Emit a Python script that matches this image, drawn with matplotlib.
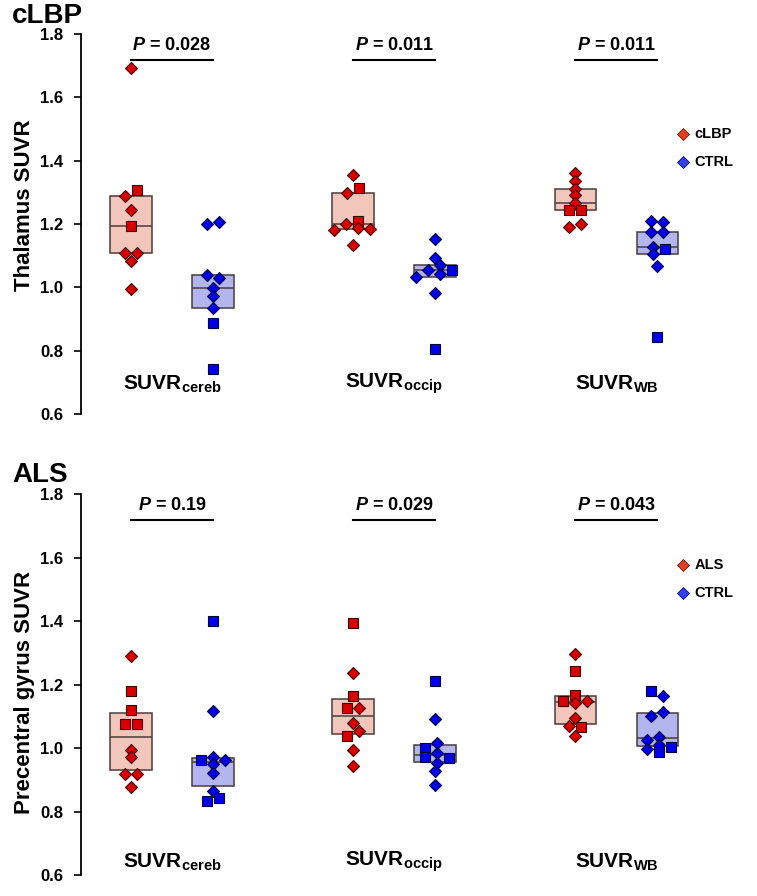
import numpy as np
import matplotlib
matplotlib.use('Agg')
import matplotlib.pyplot as plt

plt.rcParams['font.family'] = ['Liberation Sans', 'DejaVu Sans']
plt.rcParams['font.weight'] = 'bold'
plt.rcParams['mathtext.fontset'] = 'custom'
plt.rcParams['mathtext.rm'] = 'Liberation Sans:bold'
plt.rcParams['mathtext.bf'] = 'Liberation Sans:bold'
plt.rcParams['mathtext.it'] = 'Liberation Sans:italic:bold'

#data, D = diamond, s = square
measures = ['cereb', 'occip', 'WB']

clbp_pat = [
    [1.692, 1.307, 1.288, 1.244, 1.195, 1.107, 1.107, 1.083, 0.996],
    [1.354, 1.315, 1.299, 1.209, 1.201, 1.186, 1.184, 1.181, 1.133],
    [1.360, 1.335, 1.312, 1.290, 1.267, 1.245, 1.245, 1.199, 1.192],
]
clbp_pat_shape = [
    'DsDDsDDDD',
    'DsDsDDDDD',
    'DDDDDssDD',
]
clbp_ctrl = [
    [1.207, 1.199, 1.030, 1.038, 0.999, 0.974, 0.936, 0.888, 0.742],
    [1.153, 1.093, 1.071, 1.055, 1.055, 1.042, 1.034, 0.983, 0.804],
    [1.207, 1.210, 1.174, 1.176, 1.121, 1.126, 1.104, 1.067, 0.844],
]
clbp_ctrl_shape = [
    'DDDDDDDss',
    'DDDDsDDDs',
    'DDDDsDDDs',
]
clbp_p = ['0.028', '0.011', '0.011']

als_pat = [
    [1.290, 1.179, 1.120, 1.075, 1.075, 0.994, 0.971, 0.918, 0.918, 0.877],
    [1.395, 1.237, 1.164, 1.127, 1.125, 1.078, 1.055, 1.039, 0.994, 0.943],
    [1.296, 1.243, 1.167, 1.149, 1.149, 1.141, 1.094, 1.067, 1.069, 1.038],
]
als_pat_shape = [
    'DssssDDDDD',
    'sDsDsDDsDD',
    'DsssDDDsDD',
]
als_ctrl = [
    [1.400, 1.117, 0.971, 0.962, 0.962, 0.949, 0.920, 0.865, 0.841, 0.833],
    [1.210, 1.090, 1.015, 0.999, 0.983, 0.973, 0.968, 0.952, 0.929, 0.883],
    [1.165, 1.180, 1.114, 1.101, 1.036, 1.025, 1.009, 1.004, 0.996, 0.986],
]
als_ctrl_shape = [
    'sDDsDDDDss',
    'sDDsDssDDD',
    'DsDDDDDsDs',
]
als_p = ['0.19', '0.029', '0.043']

RED = '#d80000'
BLUE = '#0000e8'
RED_BOX = '#f2c6ba'
BLUE_BOX = '#b3b5ee'

STEP = 0.146      # horizontal swarm step (x units)
DMIN = 6.8        # px, vertical overlap threshold
PPU = 317.0       # px per y unit


def swarm(vals):
    vals = np.asarray(vals)
    cols = []
    for i, v in enumerate(vals):
        for k in [0, -1, 1, -2, 2, -3, 3]:
            hit = any(abs(v - vals[j]) * PPU < DMIN and cols[j] == k for j in range(i))
            if not hit:
                break
        cols.append(k)
    cols = np.array(cols, float)
    order = np.argsort(vals)
    comps, cur = [], [order[0]]
    for a, b in zip(order[:-1], order[1:]):
        if (vals[b] - vals[a]) * PPU < DMIN:
            cur.append(b)
        else:
            comps.append(cur)
            cur = [b]
    comps.append(cur)
    for c in comps:
        cols[c] -= cols[c].mean()
    return cols * STEP


def draw_group(ax, xc, vals, shapes, face, boxcol, edge):
    q1, med, q3 = np.percentile(vals, [25, 50, 75])
    ax.bar(xc, q3 - q1, bottom=q1, width=0.51, color=boxcol, edgecolor='#4a3c3c',
           linewidth=1.1, zorder=1)
    ax.hlines(med, xc - 0.255, xc + 0.255, color='#4a3c3c', linewidth=1.1, zorder=2)
    offs = swarm(vals)
    for v, o, m in zip(vals, offs, shapes):
        ms = 6.4 if m == 'D' else 7.6
        ax.plot(xc + o, v, ls='none', marker=m, ms=ms, mfc=face, mec=edge,
                mew=0.8, zorder=3)


def panel(ax, pat, pat_shape, ctrl, ctrl_shape, pvals, ylab, ylab_y, legend_lab,
          leg_y, lab_y):
    ax.set_xlim(0, 8.244)
    ax.set_ylim(0.6, 1.8)
    ax.set_yticks([0.6, 0.8, 1.0, 1.2, 1.4, 1.6, 1.8])
    ax.set_yticklabels(['0.6', '0.8', '1.0', '1.2', '1.4', '1.6', '1.8'])
    ax.tick_params(axis='y', labelsize=12, length=5, width=1.2, pad=8)
    ax.set_xticks([])
    for sp in ['top', 'right', 'bottom']:
        ax.spines[sp].set_visible(False)
    ax.spines['left'].set_linewidth(1.3)
    ax.patch.set_alpha(0)

    for i in range(3):
        gx = 1.11 + 2.71 * i
        draw_group(ax, gx - 0.5, pat[i], pat_shape[i], RED, RED_BOX, '#400000')
        draw_group(ax, gx + 0.5, ctrl[i], ctrl_shape[i], BLUE, BLUE_BOX, '#00003a')
        ax.plot([gx - 0.5, gx + 0.5], [1.718, 1.718], color='black', lw=1.5,
                clip_on=False)
        ax.text(gx, 1.765, r'$P$ = ' + pvals[i], ha='center', va='center',
                fontsize=13, fontweight='bold', clip_on=False)
        ax.text(gx, lab_y, r'SUVR$_{\mathbf{' + measures[i] + '}}$', ha='center',
                va='center', fontsize=15, fontweight='bold')

    ax.text(-0.083, ylab_y, ylab, rotation=90, ha='center', va='center',
            fontsize=16, fontweight='bold', transform=ax.transAxes)

    ax.plot([7.34], [leg_y], ls='none', marker='D', ms=6.2, mfc='#e0401e',
            mec='#6a1a0a', mew=0.6, clip_on=False)
    ax.text(7.48, leg_y, legend_lab, ha='left', va='center', fontsize=10.5,
            fontweight='bold')
    ax.plot([7.34], [leg_y - 0.088], ls='none', marker='D', ms=6.2, mfc='#3340ee',
            mec='#10106a', mew=0.6, clip_on=False)
    ax.text(7.48, leg_y - 0.088, 'CTRL', ha='left', va='center', fontsize=10.5,
            fontweight='bold')


fig = plt.figure(figsize=(7.57, 8.96), dpi=100)
ax1 = fig.add_axes([81 / 757, 1 - 414 / 896, 1 - 81 / 757, 380 / 896])
ax2 = fig.add_axes([81 / 757, 1 - 875 / 896, 1 - 81 / 757, 381 / 896])

panel(ax1, clbp_pat, clbp_pat_shape, clbp_ctrl, clbp_ctrl_shape, clbp_p,
      'Thalamus SUVR', 0.55, 'cLBP', 1.484, 0.695)
panel(ax2, als_pat, als_pat_shape, als_ctrl, als_ctrl_shape, als_p,
      'Precentral gyrus SUVR', 0.48, 'ALS', 1.576, 0.641)

fig.text(12 / 757, 1 - 23 / 896, 'cLBP', ha='left', va='baseline', fontsize=20,
         fontweight='bold')
fig.text(12 / 757, 1 - 482 / 896, 'ALS', ha='left', va='baseline', fontsize=20,
         fontweight='bold')

fig.savefig('out.png', dpi=100)
